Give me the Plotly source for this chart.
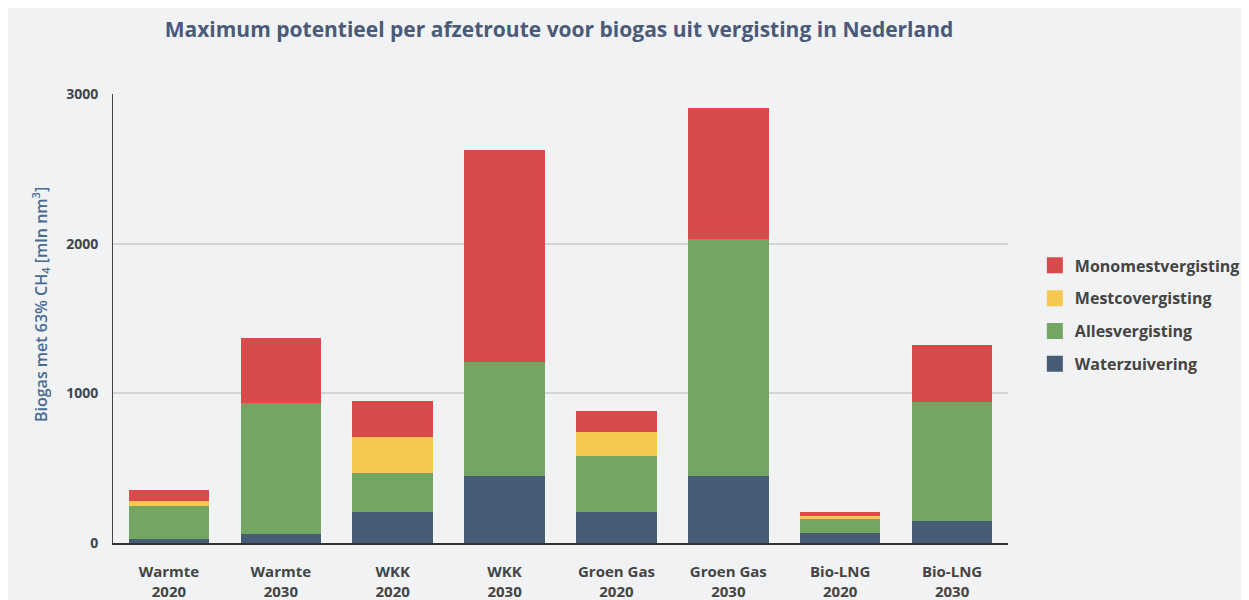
import plotly.graph_objects as go

categories = ["Warmte<br>2020", "Warmte<br>2030", "WKK<br>2020", "WKK<br>2030",
              "Groen Gas<br>2020", "Groen Gas<br>2030", "Bio-LNG<br>2020", "Bio-LNG<br>2030"]
waterzuivering = [27, 60, 209, 450, 209, 450, 69, 149]
allesvergisting = [218, 877, 256, 761, 369, 1583, 93, 795]
mestcovergisting = [33, 0, 243, 0, 161, 0, 20, 0]
monomestvergisting = [77, 434, 243, 1416, 145, 875, 25, 381]

series = [
    ("Waterzuivering", waterzuivering, "#475c75"),
    ("Allesvergisting", allesvergisting, "#74a663"),
    ("Mestcovergisting", mestcovergisting, "#f5c951"),
    ("Monomestvergisting", monomestvergisting, "#d94a4a"),
]

FONT = "Open Sans"
fig = go.Figure()
for name, vals, col in series:
    fig.add_trace(go.Bar(x=categories, y=vals, name=name, marker_color=col,
                         marker_line_width=0, showlegend=False))
for rank, (name, vals, col) in enumerate(reversed(series)):
    fig.add_trace(go.Scatter(x=[None], y=[None], mode="markers", name=name,
                             legendgroup=name, legendrank=rank + 1,
                             marker=dict(symbol="square", size=16, color=col)))

fig.update_layout(
    width=1249, height=600,
    barmode="stack", bargap=0.28,
    paper_bgcolor="#f0f2f4", plot_bgcolor="#f0f2f4",
    margin=dict(l=105, r=249, t=86, b=65, autoexpand=False),
    title=dict(text="<b>Maximum potentieel per afzetroute voor biogas uit vergisting in Nederland</b>",
               x=551/1249, xanchor="center", xref="container",
               y=1-22/600, yanchor="middle",
               font=dict(family=FONT, size=21, color="#4a5a78")),
    legend=dict(x=1.03, xanchor="left", y=0.656, yanchor="top",
                traceorder="grouped", tracegroupgap=9,
                font=dict(family=FONT, size=16, color="#444444", weight="bold"),
                bgcolor="rgba(0,0,0,0)"),
    xaxis=dict(showgrid=False, showline=True, linecolor="#333333", linewidth=2,
               ticks="", ticklabelstandoff=14, automargin=False,
               tickfont=dict(family=FONT, size=15, color="#444444", weight="bold")),
    yaxis=dict(range=[0, 3000], tickvals=[0, 1000, 2000, 3000],
               showgrid=True, gridcolor="#d2d4d6", gridwidth=1.5,
               showline=True, linecolor="#444444", linewidth=1,
               zeroline=False, ticks="", ticklabelstandoff=11, automargin=False,
               tickfont=dict(family=FONT, size=14, color="#444444", weight="bold")),
    annotations=[dict(text="Biogas met 63% CH<sub>4</sub> [mln nm<sup>3</sup>]",
                      xref="paper", yref="paper", x=(32-105)/895, y=0.530,
                      xanchor="center", yanchor="middle", textangle=-90,
                      showarrow=False,
                      font=dict(family=FONT, size=16, color="#4a6a90", weight=600))],
)

fig.write_html("out.html")
